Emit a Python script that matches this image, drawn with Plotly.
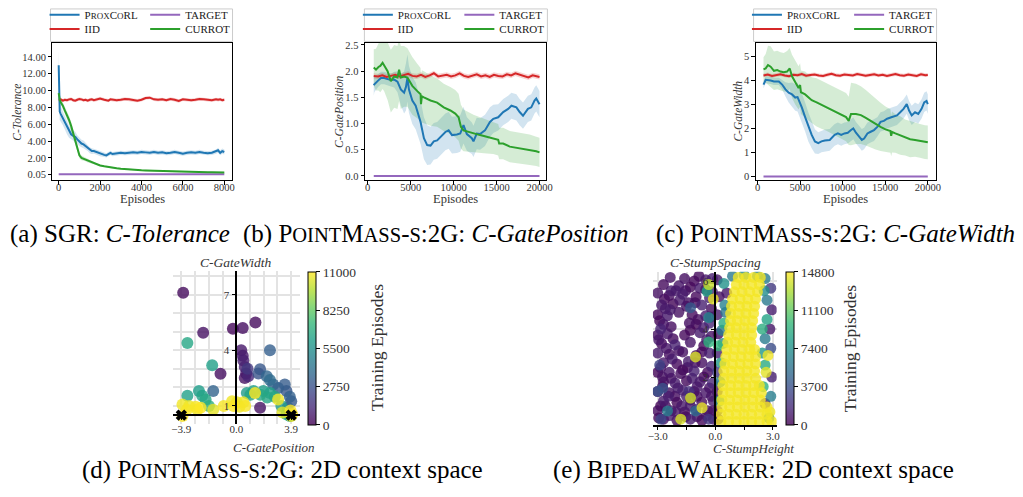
import plotly.graph_objects as go

W, H = 1023, 497
SERIF = "Liberation Serif, Times New Roman, Times, serif"
INK = "#333333"
C_PROX, C_IID, C_TGT, C_CUR = "#1f77b4", "#d62728", "#9467bd", "#2ca02c"
LINE_COLORS = [C_PROX, C_IID, C_TGT, C_CUR]
BAND_COLORS = ["rgba(31,119,180,0.2)", "rgba(214,39,40,0.2)", "rgba(148,103,189,0.2)", "rgba(44,160,44,0.2)"]

# ---------------- (a) SGR: C-Tolerance ----------------
A_X = [0, 25, 50, 100, 200, 300, 400, 500, 600, 700, 800, 900, 1000, 1100, 1200, 1300, 1400, 1500, 1600, 1700, 1800,
       2000, 2200, 2300, 2400, 2500, 2600, 2800,
       3000, 3200, 3400, 3600, 3800, 4000, 4200, 4400, 4600, 4800, 5000, 5200, 5400, 5600, 5800, 6000, 6200, 6400,
       6600, 6800, 7000, 7200, 7400, 7600, 7700, 7800, 7900, 8000]
A_PROX = [13.0, 10.5, 7.5, 7.2, 6.7, 6.2, 5.6, 5.1, 4.8, 4.6, 4.5, 4.2, 3.9, 3.7, 3.6, 3.4, 3.2, 2.9, 2.8, 2.8, 2.7,
          2.5, 2.35, 2.3, 2.45, 2.6, 2.45, 2.5,
          2.6, 2.55, 2.6, 2.65, 2.6, 2.7, 2.65, 2.6, 2.7, 2.6, 2.65, 2.55, 2.6, 2.7, 2.6, 2.5, 2.6, 2.65, 2.6, 2.7,
          2.6, 2.55, 2.6, 2.75, 2.9, 2.6, 2.8, 2.7]
A_PROX_SD = [1.8, 1.5, 1.0, 0.9, 0.8, 0.8, 0.8, 0.7, 0.6, 0.6, 0.6, 0.5, 0.5, 0.45, 0.45, 0.4, 0.4, 0.35, 0.35, 0.3, 0.3,
             0.3, 0.25, 0.25, 0.25, 0.25, 0.25, 0.25,
             0.25, 0.25, 0.25, 0.25, 0.25, 0.25, 0.25, 0.25, 0.25, 0.25, 0.25, 0.25, 0.25, 0.25, 0.25, 0.25, 0.25, 0.25,
             0.25, 0.25, 0.25, 0.25, 0.25, 0.25, 0.3, 0.3, 0.3, 0.3]
A_IID = [8.9, 8.85, 8.9, 8.95, 8.8, 8.9, 8.85, 8.95, 9.0, 8.85, 8.8, 8.9, 9.0, 8.95, 8.85, 8.9, 8.8, 8.9, 8.95, 8.85,
         8.9, 9.05, 8.9, 8.85, 8.8, 8.95, 8.9, 8.85, 8.9, 9.0, 8.95, 8.85, 8.8, 8.9, 9.1, 9.15, 8.95, 8.9, 8.95, 8.85,
         9.0, 8.9, 8.75, 8.95, 8.9, 8.85, 8.9, 9.0, 8.95, 8.9, 8.85, 8.95, 8.9, 8.95, 8.85, 8.9]
A_IID_SD = [0.3, 0.25, 0.2, 0.2, 0.2, 0.2, 0.2, 0.2, 0.2, 0.2, 0.2, 0.2, 0.2, 0.2, 0.2, 0.2, 0.2, 0.2, 0.2, 0.2,
            0.2, 0.2, 0.2, 0.2, 0.2, 0.2, 0.2, 0.2, 0.2, 0.2, 0.2, 0.2, 0.2, 0.2, 0.2, 0.2, 0.2, 0.2, 0.2, 0.2,
            0.2, 0.2, 0.2, 0.2, 0.2, 0.2, 0.2, 0.2, 0.2, 0.2, 0.2, 0.2, 0.2, 0.2, 0.2, 0.2]
A_CUR = [9.7, 9.2, 8.9, 8.6, 8.2, 7.6, 7.1, 6.5, 5.8, 5.0, 4.2, 3.2, 2.3, 2.0, 1.9, 1.8, 1.65, 1.55, 1.45, 1.35, 1.25,
         1.1, 1.0, 0.95, 0.9, 0.85, 0.82, 0.76,
         0.7, 0.65, 0.6, 0.57, 0.54, 0.52, 0.5, 0.48, 0.46, 0.44, 0.42, 0.4, 0.38, 0.36, 0.35, 0.34, 0.33, 0.32, 0.31,
         0.3, 0.29, 0.28, 0.28, 0.27, 0.27, 0.27, 0.26, 0.26]
A_CUR_SD = [0.2, 0.25, 0.3, 0.35, 0.4, 0.45, 0.5, 0.5, 0.5, 0.5, 0.45, 0.4, 0.35, 0.3, 0.25, 0.2, 0.2, 0.15, 0.15, 0.15,
            0.12, 0.08, 0.08, 0.08, 0.08, 0.08, 0.08, 0.08, 0.08, 0.08, 0.08, 0.08, 0.08, 0.08, 0.08, 0.08, 0.08, 0.08,
            0.08, 0.08, 0.08, 0.08, 0.08, 0.08, 0.08, 0.08, 0.08, 0.08, 0.08, 0.08, 0.08, 0.08, 0.08, 0.08, 0.08, 0.08]
A_TGT_X = [0, 8000]
A_TGT_Y = [0.05, 0.05]
A_YTICKS = [0.05, 2, 4, 6, 8, 10, 12, 14]
A_YTEXT = ["0.05", "2.00", "4.00", "6.00", "8.00", "10.00", "12.00", "14.00"]
A_XTICKS = [0, 2000, 4000, 6000, 8000]

# ---------------- (b) PointMass: C-GatePosition ----------------
B_PROX_X = [700, 770, 1200, 1540, 1920, 2300, 2700, 3080, 3460, 3850, 4230, 4450, 4620, 4800, 5190, 5580, 6150, 6540,
            6920, 7310, 7690, 8080, 8460, 9040, 9420, 9810, 10380, 10770, 11150, 11540, 12120, 12310, 12690, 13080,
            13650, 14230, 14620, 15190, 15770, 16350, 16730, 17310, 17690, 18080, 18650, 19040, 19420, 19620, 20000]
B_PROX = [1.73, 1.75, 1.82, 1.87, 1.87, 1.85, 1.83, 1.84, 1.80, 1.65, 1.59, 1.70, 1.87, 1.65, 1.44, 1.34, 1.03, 0.72,
          0.59, 0.58, 0.66, 0.68, 0.75, 0.84, 0.87, 0.78, 0.79, 0.81, 0.97, 0.80, 0.72, 0.66, 0.81, 0.80,
          0.87, 1.03, 1.09, 1.12, 1.22, 1.28, 1.34, 1.31, 1.22, 1.15, 1.28, 1.31, 1.44, 1.48, 1.37]
B_PROX_SD = [0.2, 0.15, 0.12, 0.12, 0.12, 0.12, 0.12, 0.15, 0.2, 0.3, 0.4, 0.45, 0.45, 0.45, 0.45, 0.45, 0.42, 0.4,
             0.38, 0.36, 0.35, 0.35, 0.35, 0.35, 0.35, 0.35, 0.35, 0.35, 0.35, 0.32, 0.3, 0.3, 0.3, 0.3,
             0.3, 0.28, 0.27, 0.25, 0.25, 0.25, 0.25, 0.25, 0.25, 0.25, 0.25, 0.25, 0.25, 0.25, 0.25]
BC_RED_X = [700, 1200, 1700, 2200, 2700, 3200, 3700, 4200, 4700, 5200, 5700, 6200, 6700, 7200, 7700, 8200, 8700, 9200,
            9700, 10200, 10700, 11200, 11700, 12200, 12700, 13200, 13700, 14200, 14700, 15200, 15700, 16200, 16700,
            17200, 17700, 18200, 18700, 19200, 19700, 20000]
B_IID = [1.91, 1.90, 1.92, 1.89, 1.91, 1.93, 1.90, 1.92, 1.95, 1.91, 1.90, 1.93, 1.89, 1.92, 1.96, 1.90, 1.91, 1.93,
         1.90, 1.92, 1.96, 1.91, 1.89, 1.92, 1.94, 1.90, 1.92, 1.89, 1.93, 1.91, 1.90, 1.94, 1.92, 1.96, 1.93, 1.90,
         1.88, 1.92, 1.90, 1.89]
B_IID_SD = [0.05, 0.05, 0.05, 0.05, 0.05, 0.05, 0.05, 0.05, 0.05, 0.05, 0.05, 0.05, 0.05, 0.05, 0.05,
            0.05, 0.05, 0.05, 0.05, 0.05, 0.05, 0.05, 0.05, 0.05, 0.05, 0.05, 0.05, 0.05, 0.05, 0.05,
            0.05, 0.05, 0.05, 0.05, 0.05, 0.05, 0.05, 0.05, 0.05, 0.05]
B_CUR_X = [700, 960, 1250, 1460, 1730, 1900, 2310, 2690, 3080, 3460, 3650, 3850, 4230, 4620, 5190, 5770, 6150, 6200,
           6300, 6540, 7310, 8080, 8850, 9620, 10190, 10580, 10850, 11150, 11730, 12310, 13080, 13850, 14620, 15190,
           15300, 15770, 16540, 17310, 18080, 18850, 19620, 20000]
B_CUR = [2.07, 2.03, 2.08, 2.10, 2.16, 2.12, 2.0, 1.81, 1.9, 1.88, 2.03, 1.88, 1.9, 1.88, 1.72, 1.62, 1.56, 1.37,
         1.52, 1.5, 1.44, 1.4, 1.31, 1.25, 1.19, 1.12, 0.94, 0.87, 0.84, 0.81, 0.78, 0.75, 0.72, 0.69,
         0.62, 0.62, 0.56, 0.54, 0.52, 0.5, 0.47, 0.45]
B_CUR_SD = [0.35, 0.4, 0.45, 0.5, 0.5, 0.5, 0.55, 0.6, 0.6, 0.6, 0.6, 0.6, 0.58, 0.56, 0.55, 0.52, 0.5, 0.5,
            0.5, 0.5, 0.48, 0.46, 0.45, 0.45, 0.45, 0.45, 0.42, 0.4, 0.38, 0.36, 0.34, 0.32, 0.3, 0.3,
            0.3, 0.3, 0.3, 0.3, 0.29, 0.29, 0.28, 0.28]
B_TGT_X = [700, 20000]
B_TGT_Y = [0.0, 0.0]
B_YTICKS = [0.0, 0.5, 1.0, 1.5, 2.0, 2.5]
B_YTEXT = ["0.0", "0.5", "1.0", "1.5", "2.0", "2.5"]
BC_XTICKS = [0, 5000, 10000, 15000, 20000]

# ---------------- (c) PointMass: C-GateWidth ----------------
C_PROX_X = [700, 960, 1540, 1930, 2500, 2890, 3280, 3660, 4050, 4430, 4700, 4900, 5200, 5590, 5970, 6360, 6740, 7130,
            7510, 7900, 8480, 9060, 9440, 9830, 10210, 10600, 10980, 11250, 11560, 11950, 12250, 12520, 12910, 13290,
            13680, 14070, 14450, 14840, 15220, 15800, 16380, 16760, 17150, 17530, 17800, 18110, 18500, 18880, 19270,
            19580, 19850, 20000]
C_PROX = [3.82, 4.02, 3.99, 3.95, 3.95, 3.82, 3.62, 3.48, 3.41, 3.28, 3.30, 3.15, 2.87, 2.47, 2.06, 1.73, 1.46, 1.39,
          1.46, 1.50, 1.52, 1.73, 1.79, 1.73, 1.79, 1.82, 1.93, 2.0, 1.82, 1.66, 1.52, 1.58, 1.79, 1.86,
          1.93, 2.06, 2.27, 2.31, 2.40, 2.47, 2.54, 2.67, 2.81, 3.01, 2.74, 2.54, 2.67, 2.60, 2.81,
          3.08, 3.14, 3.01]
C_PROX_SD = [0.15, 0.15, 0.15, 0.15, 0.15, 0.2, 0.3, 0.4, 0.5, 0.55, 0.6, 0.6, 0.6, 0.6, 0.6, 0.55, 0.5, 0.45,
             0.45, 0.45, 0.45, 0.45, 0.45, 0.45, 0.45, 0.45, 0.45, 0.45, 0.45, 0.45, 0.45, 0.45, 0.45, 0.45,
             0.45, 0.4, 0.4, 0.4, 0.4, 0.4, 0.4, 0.4, 0.4, 0.4, 0.4, 0.4, 0.4, 0.4, 0.4, 0.4, 0.4, 0.4]
C_IID = [4.20, 4.24, 4.18, 4.22, 4.25, 4.20, 4.17, 4.23, 4.21, 4.26, 4.19, 4.22, 4.24, 4.20, 4.18, 4.23, 4.27, 4.21,
         4.19, 4.24, 4.22, 4.20, 4.26, 4.23, 4.19, 4.22, 4.25, 4.20, 4.23, 4.18, 4.22, 4.26, 4.21, 4.19, 4.24, 4.22,
         4.18, 4.25, 4.21, 4.22]
C_IID_SD = [0.08, 0.08, 0.08, 0.08, 0.08, 0.08, 0.08, 0.08, 0.08, 0.08, 0.08, 0.08, 0.08, 0.08, 0.08, 0.08, 0.08,
            0.08, 0.08, 0.08, 0.08, 0.08, 0.08, 0.08, 0.08, 0.08, 0.08, 0.08, 0.08, 0.08, 0.08, 0.08, 0.08, 0.08,
            0.08, 0.08, 0.08, 0.08, 0.08, 0.08]
C_CUR_X = [700, 960, 1230, 1540, 1930, 2310, 2700, 3080, 3470, 3780, 4050, 4430, 4820, 5000, 5100, 5590, 5970, 6360,
           6940, 7510, 8090, 8670, 9250, 9830, 10400, 10710, 10980, 11560, 12140, 12720, 13300, 13870, 14450, 15030,
           15610, 15700, 15800, 16190, 16760, 17340, 17920, 18500, 19080, 19660, 20000]
C_CUR = [4.45, 4.49, 4.63, 4.56, 4.39, 4.42, 4.36, 4.33, 4.36, 4.49, 4.16, 3.89, 3.68, 3.80, 3.50, 3.41, 3.28, 3.17,
         3.08, 2.98, 2.90, 2.77, 2.67, 2.58, 2.47, 2.31, 2.60, 2.60, 2.55, 2.44, 2.31, 2.17, 2.06, 1.96,
         1.89, 1.69, 1.85, 1.79, 1.70, 1.62, 1.55, 1.52, 1.48, 1.43, 1.42]
C_CUR_SD = [0.5, 0.6, 0.8, 0.85, 0.8, 0.8, 0.8, 0.8, 0.85, 0.85, 0.9, 0.9, 0.9, 0.9, 0.9, 0.95, 0.95, 0.95,
            1.0, 1.0, 1.0, 1.0, 1.0, 1.0, 1.0, 1.0, 1.3, 1.25, 1.2, 1.15, 1.1, 1.05, 1.0, 0.95,
            0.9, 0.85, 0.85, 0.8, 0.8, 0.75, 0.75, 0.7, 0.7, 0.7, 0.7]
C_TGT_X = [700, 20000]
C_TGT_Y = [0.0, 0.0]
C_YTICKS = [0, 1, 2, 3, 4, 5]

# ---------------- (d) PointMass 2D context space ----------------
D_X = [-3.77, -2.35, -3.47, -0.24, 0.46, 1.36, 0.35, 0.46, 0.5, 0.6,
       0.7, 0.85, 0.6, 2.39, -1.71, -1.12, 0.8, 1.69, 1.57, 2.16,
       2.39, 2.62, 2.97, 3.44, 3.56, 3.8, 3.9, 1.69, 0.75, 1.22,
       1.92, 2.39, 2.73, 1.33, 2.97, 3.2, 3.65, 3.28, 3.85, 3.97,
       3.8, 3.56, -1.64, -2.65, -2.42, -2.18, -3.47, -3.82, -3.82, -3.35,
       -2.88, -2.53, -1.94, -1.64, -0.89, -0.3, -0.19, 0.23, 0.63, 0.04,
       -2.77, -3.5, 0.5, 3.9, 1.0, 1.7, 2.2]
D_Y = [7.1, 4.95, 4.4, 5.16, 5.2, 5.5, 4.0, 3.7, 3.45, 3.1,
       2.75, 2.6, 2.5, 4.0, 3.2, 2.73, 3.0, 2.98, 2.75, 2.6,
       2.4, 2.15, 1.97, 2.15, 1.8, 1.5, 1.25, 0.9, 1.7, 1.8,
       1.8, 1.7, 1.5, 1.7, 1.35, 1.0, 0.9, 0.65, 0.75, 0.55,
       0.45, 0.55, 1.8, 1.8, 1.55, 1.35, 1.55, 1.08, 0.45, 1.0,
       0.95, 0.9, 1.0, 0.8, 1.0, 1.25, 1.0, 0.95, 1.0, 1.2,
       0.8, 0.8, 1.2, 0.45, 1.6, 1.6, 1.45]
D_EP = [300, 500, 6500, 200, 400, 300, 700, 800, 900, 1000,
        600, 1200, 500, 3300, 6200, 400, 1800, 3000, 2800, 3600,
        3800, 3500, 3300, 3200, 3000, 3400, 3100, 500, 6000, 6200,
        6100, 6300, 6400, 11000, 10800, 6000, 3500, 10500, 11000, 10900,
        6200, 6000, 3500, 6100, 6300, 6500, 6200, 10800, 11000, 10700,
        10900, 11000, 6800, 10600, 10900, 10800, 11000, 10700, 10900, 10600,
        10800, 10900, 10800, 10700, 6400, 6600, 6500]
D_TGT_X = [-3.9, 3.9]
D_TGT_Y = [0.5, 0.5]
D_CB_TICKS = [0, 2750, 5500, 8250, 11000]

# ---------------- (e) BipedalWalker 2D context space ----------------
E_L_X = [-1.6, -1.1, -0.5, -0.15, -2.7, -1.9, -1.3, -0.8, -3.0, -2.4, -1.7, -1.0, -0.3,
         -2.8, -2.2, -1.5, -0.7, -0.2, -3.0, -2.5, -1.9, -1.2, -0.5, -2.7, -2.3, -1.0, -0.3,
         -3.0, -2.5, -1.6, -0.8, -0.2, -2.8, -2.1, -1.3, -0.6, -3.0, -2.4, -1.7, -1.0, -0.3,
         -2.7, -2.0, -1.4, -0.7, -3.0, -2.4, -1.8, -1.1, -0.4, -2.7, -2.1, -1.5, -0.8, -0.15,
         -3.0, -2.4, -1.7, -1.1, -0.5, -2.7, -2.0, -1.3, -0.7, -0.1, -3.0, -2.3, -1.6, -1.0, -0.4,
         -2.7, -2.0, -1.3, -0.7, -0.1,
         -2.3, -0.5, -1.4, -2.6, -0.9, -2.85, -1.3, -2.55, -0.45, -1.45, -2.75, -0.6, -1.95, -0.3,
         -2.45, -0.95, -1.75, -2.85, -0.45, -1.55, -2.4,
         -2.35, -0.85, -2.05, -1.55, -0.15, -2.65, -1.85, -1.05, -2.35, -0.25, -2.9, -1.35, -0.6,
         -2.2, -2.95, -1.9, -0.7, -2.25, -1.05, -0.2, -2.85, -1.7, -2.3, -1.2, -2.75, -0.95, -2.1,
         -1.5, -0.2, -2.6, -1.3, -0.1, -2.05, -0.95, -2.95]
E_L_Y = [6.1, 6.0, 6.05, 6.1, 5.85, 5.8, 5.75, 5.7, 5.5, 5.4, 5.45, 5.35, 5.3,
         5.0, 5.05, 4.95, 5.0, 4.85, 4.6, 4.55, 4.7, 4.6, 4.55, 4.2, 4.1, 4.2, 4.25,
         3.75, 3.8, 3.75, 3.85, 3.7, 3.4, 3.35, 3.45, 3.3, 3.0, 2.95, 3.05, 2.9, 3.0,
         2.6, 2.55, 2.65, 2.6, 2.2, 2.2, 2.15, 2.25, 2.2, 1.8, 1.75, 1.85, 1.8, 1.75,
         1.4, 1.35, 1.45, 1.4, 1.35, 1.0, 0.95, 1.05, 0.95, 1.0, 0.6, 0.6, 0.55, 0.65, 0.6,
         0.25, 0.2, 0.25, 0.2, 0.25,
         5.6, 5.65, 5.1, 4.85, 4.4, 4.0, 3.95, 3.2, 3.55, 2.4, 2.0, 2.0, 1.55, 1.55,
         1.2, 1.2, 0.8, 0.8, 0.4, 0.35, 0.4,
         6.15, 6.2, 5.6, 5.6, 5.55, 5.25, 5.2, 5.1, 4.8, 4.5, 4.35, 4.25, 4.05,
         3.6, 3.55, 3.1, 3.05, 2.75, 2.6, 2.45, 2.4, 2.3, 1.95, 1.95, 1.6, 1.6, 1.2,
         1.2, 1.2, 0.8, 0.8, 0.6, 0.55, 0.35, 0.3]
E_L_EP = [600, 300, 900, 1200, 400, 800, 200, 1000, 700, 500, 1100, 300, 1400,
          900, 200, 600, 1300, 500, 300, 1000, 700, 400, 1200, 800, 500, 200, 1500,
          600, 900, 300, 1100, 700, 400, 1300, 800, 200, 1000, 500, 700, 300, 1200,
          900, 400, 1100, 600, 200, 800, 500, 1300, 300, 700, 1000, 400, 900, 1500,
          300, 600, 1200, 500, 800, 1100, 200, 700, 400, 1000, 500, 900, 300, 1300, 600,
          800, 400, 1200, 200, 700,
          1000, 300, 600, 900, 500, 1400, 200, 800, 1100, 400, 700, 300, 1000, 600,
          1200, 500, 900, 200, 800, 400, 1100,
          700, 400, 1000, 600, 1300, 300, 900, 500, 1100, 800, 200, 600, 1200,
          400, 900, 700, 300, 1000, 500, 1400, 800, 200, 600, 1100, 300, 900, 500,
          1200, 700, 400, 1000, 300, 800, 600, 200]
E_M_X = [-0.43, -0.34, -0.1, -1.29, -0.34, -0.34, -1.03, -3.0, -2.49, -1.29, -0.69, -1.8, -1.03, -2.74, -2.83,
         -0.34, -1.37, -2.9,
         0.1, 0.45, 0.2, 0.5, 0.1, 0.45, 0.15, 0.4, 0.1, 0.3, 0.1, 0.25, 0.1, 0.2, 0.1, 0.15, 0.6, 0.55, 0.35, 0.15,
         0.9, 1.5, 2.2, 2.6,
         2.9, 2.7, 2.95, 2.7, 2.85, 2.6, 2.9, 2.75, 2.6, 2.95, 2.65, 2.5, 2.9, 2.6, 2.85, 2.8, 2.55, 2.45, 2.45]
E_M_Y = [5.57, 5.85, 5.25, 4.89, 4.48, 3.46, 2.84, 1.41, 0.59, 1.13, 0.72, 0.25, 0.59, 1.54, 0.25, 0.25, 1.4, 2.5,
         6.05, 5.9, 5.35, 5.0, 4.6, 4.25, 3.8, 3.4, 3.0, 2.6, 2.2, 1.8, 1.4, 1.0, 0.6, 0.25, 5.5, 4.7, 3.95, 3.3,
         6.2, 6.25, 6.2, 6.1,
         5.7, 5.2, 4.8, 4.4, 4.0, 3.6, 3.2, 2.9, 2.5, 2.0, 2.2, 1.6, 1.2, 0.9, 0.55, 0.3, 5.6, 4.0, 3.0]
E_M_EP = [8500, 13500, 14200, 4200, 6800, 9500, 14000, 3900, 6300, 13800, 14300, 13900, 5200, 3700, 3200,
          2400, 2000, 3000,
          900, 7500, 600, 6500, 1100, 9000, 700, 7000, 1300, 8000, 2500, 6500, 900, 7200, 1200, 800, 800, 5800,
          6200, 9800,
          6000, 7000, 6500, 6200,
          2500, 6000, 1200, 8500, 900, 6200, 3500, 14500, 9000, 1300, 14200, 9500, 6300, 1000, 14400, 6500, 7200,
          9200, 7800]
E_CORE_ROW_Y = [6.15, 5.85, 5.55, 5.25, 4.95, 4.65, 4.35, 4.05, 3.75, 3.45, 3.15, 2.85, 2.55, 2.25, 1.95, 1.65,
                1.35, 1.05, 0.75, 0.45, 0.15]
E_CORE_ROW_X = [
    [1.2, 1.6, 2.0, 2.35],
    [1.1, 1.5, 1.9, 2.3],
    [1.0, 1.4, 1.8, 2.2],
    [0.9, 1.3, 1.7, 2.1],
    [0.85, 1.25, 1.65, 2.05],
    [0.8, 1.2, 1.6, 2.0],
    [0.8, 1.15, 1.55, 1.95],
    [0.75, 1.1, 1.5, 1.9],
    [0.7, 1.1, 1.5, 1.9],
    [0.65, 1.05, 1.45, 1.85],
    [0.6, 1.0, 1.4, 1.8, 2.05],
    [0.55, 0.95, 1.35, 1.75, 2.1],
    [0.5, 0.9, 1.3, 1.7, 2.1],
    [0.45, 0.85, 1.25, 1.65, 2.05],
    [0.45, 0.85, 1.25, 1.65, 2.1],
    [0.4, 0.8, 1.2, 1.6, 2.0, 2.3],
    [0.4, 0.8, 1.2, 1.6, 2.0, 2.4],
    [0.35, 0.75, 1.15, 1.55, 1.95, 2.35],
    [0.35, 0.75, 1.15, 1.55, 1.95, 2.35, 2.7],
    [0.3, 0.7, 1.1, 1.5, 1.9, 2.3, 2.7],
    [0.3, 0.7, 1.1, 1.5, 1.9, 2.3, 2.7, 2.95],
]
E_CORE_EP = 14600
E_CB_TICKS = [0, 3700, 7400, 11100, 14800]

VIRIDIS = ["#440154", "#482878", "#3e4989", "#31688e", "#26828e", "#1f9e89", "#35b779", "#6ece58", "#b5de2b",
           "#fde725"]


def rgba(hx, a):
    return "rgba(%d,%d,%d,%.2f)" % (int(hx[1:3], 16), int(hx[3:5], 16), int(hx[5:7], 16), a)


VIR_SCALE = [[i / (len(VIRIDIS) - 1), rgba(VIRIDIS[i], 0.8)] for i in range(len(VIRIDIS))]


def fx(px):
    return px / W


def fy(py):
    return 1 - py / H


def sc(text, size):
    return "<span style='font-size:%gpx'>%s</span>" % (size, text)


PROX_LABEL = "P" + sc("ROX", 9) + "C" + sc("O", 9) + "RL"
LABELS = [PROX_LABEL, "IID", "TARGET", "CURROT"]
LEG_ROWS = [9.0, 23.5]
TICKFONT = dict(family=SERIF, size=10.5, color=INK)

fig = go.Figure()
layout = dict(width=W, height=H, margin=dict(l=0, r=0, t=0, b=0), autosize=False,
              paper_bgcolor="white", plot_bgcolor="white", font=dict(family=SERIF, color=INK),
              shapes=[], annotations=[])


def ann(text, x, y, size, color=INK, italic=False, angle=0):
    layout["annotations"].append(dict(text=("<i>%s</i>" % text) if italic else text, x=fx(x), y=fy(y),
                                      xref="paper", yref="paper", xanchor="center", yanchor="middle",
                                      textangle=angle, showarrow=False,
                                      font=dict(family=SERIF, size=size, color=color)))


LINE_PANELS = [
    dict(n=1, xdom=(48, 229), ydom=(38, 177), xr=[-300, 8350], yr=[-0.65, 15.6],
         xticks=A_XTICKS, yticks=A_YTICKS, ytext=A_YTEXT, ytitle="C-Tolerance", ytx=12,
         series=[(A_X, A_PROX, A_PROX_SD), (A_X, A_IID, A_IID_SD), (A_TGT_X, A_TGT_Y, None), (A_X, A_CUR, A_CUR_SD)],
         legx=(80, 181.7), frame=(46, 230)),
    dict(n=2, xdom=(364, 547), ydom=(37.5, 177), xr=[-310, 20770], yr=[-0.08, 2.54],
         xticks=BC_XTICKS, yticks=B_YTICKS, ytext=B_YTEXT, ytitle="C-GatePosition", ytx=337,
         series=[(B_PROX_X, B_PROX, B_PROX_SD), (BC_RED_X, B_IID, B_IID_SD), (B_TGT_X, B_TGT_Y, None),
                 (B_CUR_X, B_CUR, B_CUR_SD)],
         legx=(396.7, 499.3), frame=(363.3, 548.3)),
    dict(n=3, xdom=(759, 941), ydom=(37.5, 177), xr=[-200, 20950], yr=[-0.15, 5.55],
         xticks=BC_XTICKS, yticks=C_YTICKS, ytext=[str(v) for v in C_YTICKS], ytitle="C-GateWidth", ytx=740,
         series=[(C_PROX_X, C_PROX, C_PROX_SD), (BC_RED_X, C_IID, C_IID_SD), (C_TGT_X, C_TGT_Y, None),
                 (C_CUR_X, C_CUR, C_CUR_SD)],
         legx=(790, 893.3), frame=(756.7, 941.7)),
]

for p in LINE_PANELS:
    suffix = "" if p["n"] == 1 else str(p["n"])
    xref, yref = "x" + suffix, "y" + suffix
    # shaded bands
    for k in range(4):
        sx, sy, ssd = p["series"][k]
        if ssd is None:
            continue
        up = [sy[i] + ssd[i] for i in range(min(len(sy), len(ssd)))]
        lo = [sy[i] - ssd[i] for i in range(min(len(sy), len(ssd)))]
        bx = list(sx[:len(up)])
        fig.add_trace(go.Scatter(x=bx + bx[::-1], y=up + lo[::-1], fill="toself",
                                 fillcolor=BAND_COLORS[k], line=dict(width=0), mode="lines", showlegend=False,
                                 hoverinfo="skip", xaxis=xref, yaxis=yref))
    # mean lines, each with its own single-item legend
    for k in range(4):
        sx, sy, ssd = p["series"][k]
        idx = 4 * (p["n"] - 1) + k + 1
        lname = "legend" if idx == 1 else "legend%d" % idx
        fig.add_trace(go.Scatter(x=sx, y=sy, mode="lines", line=dict(color=LINE_COLORS[k], width=2),
                                 name=LABELS[k], legend=lname, xaxis=xref, yaxis=yref))
        col_i, row_i = (0, k) if k < 2 else (1, k - 2)
        layout[lname] = dict(x=fx(p["legx"][col_i] - 40), y=fy(LEG_ROWS[row_i]), xanchor="left",
                             yanchor="middle", bgcolor="rgba(0,0,0,0)", borderwidth=0,
                             font=dict(family=SERIF, size=11, color="#1a1a1a"), itemwidth=30)
    layout["shapes"].append(dict(type="rect", xref="paper", yref="paper", x0=fx(p["frame"][0]),
                                 x1=fx(p["frame"][1]), y0=fy(36), y1=fy(3),
                                 line=dict(color="#cccccc", width=1), fillcolor="white", layer="below"))
    layout["xaxis" + suffix] = dict(domain=[fx(p["xdom"][0]), fx(p["xdom"][1])], range=p["xr"], anchor=yref,
                                    showline=True, mirror=True, linecolor="black", linewidth=1, ticks="outside",
                                    ticklen=3.5, tickcolor="black", tickvals=p["xticks"], ticklabelstandoff=-6,
                                    ticktext=[str(v) for v in p["xticks"]], tickfont=TICKFONT, showgrid=False,
                                    zeroline=False)
    layout["yaxis" + suffix] = dict(domain=[fy(p["ydom"][1]), fy(p["ydom"][0])], range=p["yr"], anchor=xref,
                                    showline=True, mirror=True, linecolor="black", linewidth=1, ticks="outside",
                                    ticklen=3.5, tickcolor="black", tickvals=p["yticks"], ticktext=p["ytext"],
                                    tickfont=TICKFONT, showgrid=False, zeroline=False)
    # axis titles
    ann("Episodes", (p["xdom"][0] + p["xdom"][1]) / 2, 196.5, 12.5)
    ann(p["ytitle"], p["ytx"], (p["ydom"][0] + p["ydom"][1]) / 2, 11.5, italic=True, angle=-90)

# ---------------- scatter panels ----------------
GRID = "#e3e3e3"


def order(xs, ys, es):
    idx = sorted(range(len(es)), key=lambda i: es[i])
    return [xs[i] for i in idx], [ys[i] for i in idx], [es[i] for i in idx]


# (d)
dx, dy, de = order(D_X, D_Y, D_EP)
fig.add_trace(go.Scatter(x=dx, y=dy, mode="markers", showlegend=False, xaxis="x4", yaxis="y4",
                         marker=dict(size=12, color=de, coloraxis="coloraxis", line=dict(width=0))))
fig.add_trace(go.Scatter(x=D_TGT_X, y=D_TGT_Y, mode="markers", showlegend=False, xaxis="x4", yaxis="y4",
                         marker=dict(symbol="x", size=10, color="black", line=dict(width=0))))
D_XDOM, D_YDOM = (170, 298.3), (269.3, 425.3)
D_XR, D_YR = [-4.48, 4.53], [0, 8.28]
d_ypos = fx(D_XDOM[0] + (0 - D_XR[0]) / (D_XR[1] - D_XR[0]) * (D_XDOM[1] - D_XDOM[0]))
d_xpos = fy(D_YDOM[1] - (0.5 - D_YR[0]) / (D_YR[1] - D_YR[0]) * (D_YDOM[1] - D_YDOM[0]))
SCFONT = dict(family=SERIF, size=11, color=INK)
layout["xaxis4"] = dict(domain=[fx(D_XDOM[0]), fx(D_XDOM[1])], range=D_XR, anchor="free", position=d_xpos,
                        showline=True, linecolor="black", linewidth=1.5, ticks="outside", ticklen=4,
                        tickcolor="black", tickvals=[-3.9, 0, 3.9], ticktext=["\u22123.9", "0.0", "3.9"],
                        tickfont=SCFONT, showgrid=True, gridcolor=GRID, gridwidth=1.5, zeroline=False,
                        minor=dict(tickvals=[-2.925, -1.95, -0.975, 0.975, 1.95, 2.925], showgrid=True,
                                   gridcolor=GRID, gridwidth=1.5, ticks=""))
layout["yaxis4"] = dict(domain=[fy(D_YDOM[1]), fy(D_YDOM[0])], range=D_YR, anchor="free", position=d_ypos,
                        showline=True, linecolor="black", linewidth=1.5, ticks="outside", ticklen=4,
                        tickcolor="black", tickvals=[1, 4, 7], ticktext=["1", "4", "7"], tickfont=SCFONT,
                        showgrid=True, gridcolor=GRID, gridwidth=1.5, zeroline=False,
                        minor=dict(tickvals=[2, 3, 5, 6, 8], showgrid=True, gridcolor=GRID, gridwidth=1.5, ticks=""))

# (e)
ex = list(E_L_X) + list(E_M_X)
ey = list(E_L_Y) + list(E_M_Y)
ee = list(E_L_EP) + list(E_M_EP)
for r in range(len(E_CORE_ROW_Y)):
    for xv in E_CORE_ROW_X[r]:
        ex.append(xv)
        ey.append(E_CORE_ROW_Y[r])
        ee.append(E_CORE_EP)
ex, ey, ee = order(ex, ey, ee)
fig.add_trace(go.Scatter(x=ex, y=ey, mode="markers", showlegend=False, xaxis="x5", yaxis="y5",
                         marker=dict(size=11, color=ee, coloraxis="coloraxis2", line=dict(width=0))))
E_XDOM, E_YDOM = (655, 780), (270, 426)
E_XR, E_YR = [-3.25, 3.2], [0, 6.39]
e_ypos = fx(E_XDOM[0] + (0 - E_XR[0]) / (E_XR[1] - E_XR[0]) * (E_XDOM[1] - E_XDOM[0]))
layout["xaxis5"] = dict(domain=[fx(E_XDOM[0]), fx(E_XDOM[1])], range=E_XR, anchor="y5",
                        showline=True, linecolor="black", linewidth=1.5, ticks="outside", ticklen=3,
                        tickcolor="black", tickvals=[-3, 0, 3], ticktext=["\u22123.0", "0.0", "3.0"],
                        ticklabelstandoff=-3,
                        tickfont=SCFONT, showgrid=True, gridcolor=GRID, gridwidth=1.5, zeroline=False,
                        minor=dict(tickvals=[-1.5, 1.5], showgrid=True, gridcolor=GRID, gridwidth=1.5,
                                   ticks="outside", ticklen=3, tickcolor="black"))
layout["yaxis5"] = dict(domain=[fy(E_YDOM[1]), fy(E_YDOM[0])], range=E_YR, anchor="free", position=e_ypos,
                        showline=True, linecolor="black", linewidth=1.5, ticks="outside", ticklen=4,
                        tickcolor="black", tickvals=[2, 4, 6], ticktext=["2", "4", "6"], tickfont=SCFONT,
                        showgrid=True, gridcolor=GRID, gridwidth=1.5, zeroline=False)


def cbar(x0, ticks):
    return dict(x=fx(x0), xanchor="left", y=fy(425.7), yanchor="bottom", len=155 / H, lenmode="fraction",
                thickness=7.5, thicknessmode="pixels", xpad=0, ypad=0, outlinewidth=1, outlinecolor="black",
                ticks="outside", ticklen=4, tickcolor="black", tickvals=ticks, ticktext=[str(t) for t in ticks],
                tickfont=dict(family=SERIF, size=13.5, color=INK))


layout["coloraxis"] = dict(colorscale=VIR_SCALE, cmin=0, cmax=11000, colorbar=cbar(306, D_CB_TICKS))
layout["coloraxis2"] = dict(colorscale=VIR_SCALE, cmin=0, cmax=14800, colorbar=cbar(789.3, E_CB_TICKS))
ann("Training Episodes", 376.7, 347, 17.5, angle=-90)
ann("Training Episodes", 855, 348, 17.5, angle=-90)

ann("C-GateWidth", 233.3, 261, 13.5, italic=True)
ann("C-GatePosition", 271.7, 448.5, 13, italic=True)
ann("C-StumpSpacing", 718, 261, 13.5, italic=True)
ann("C-StumpHeight", 756.7, 450, 13, italic=True)

CAP = 25
SCP = 20.5
PM = "P" + sc("OINT", SCP) + "M" + sc("ASS", SCP) + "-" + sc("S", SCP) + ":2G"
ann("(a) SGR: <i>C-Tolerance</i>", 116, 232, CAP, color="black")
ann("(b) " + PM + ": <i>C-GatePosition</i>", 436, 232, CAP, color="black")
ann("(c) " + PM + ": <i>C-GateWidth</i>", 840, 232, CAP, color="black")
ann("(d) " + PM + ": 2D context space", 281, 472, CAP, color="black")
ann("(e) B" + sc("IPEDAL", SCP) + "W" + sc("ALKER", SCP) + ": 2D context space", 757, 472, CAP, color="black")

fig.update_layout(**layout)
fig.write_html("out.html", config={"displayModeBar": False},
               post_script="document.body.style.margin='0px';document.body.style.padding='0px';")
